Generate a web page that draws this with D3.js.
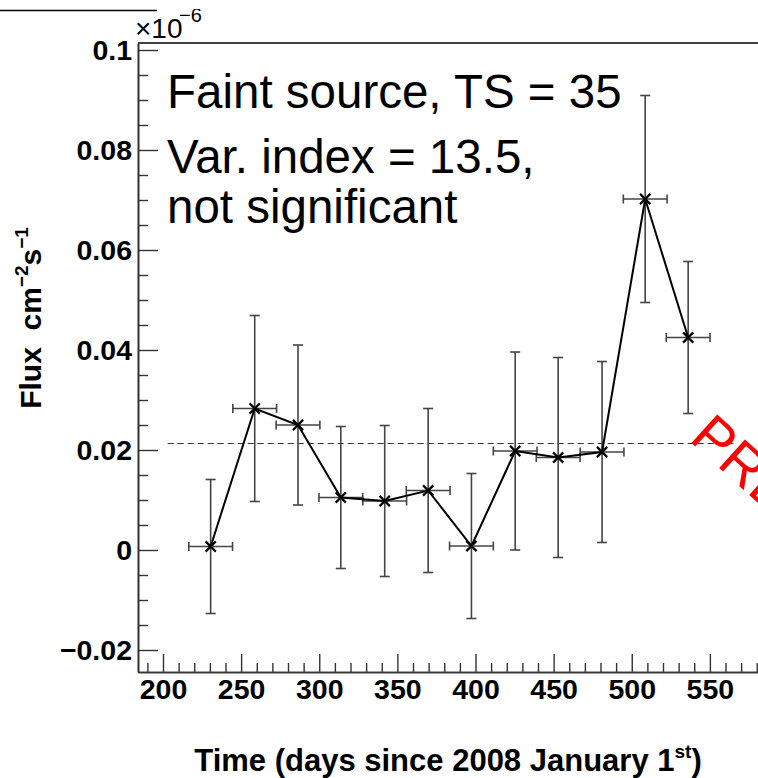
<!DOCTYPE html>
<html>
<head>
<meta charset="utf-8">
<script src="https://cdn.jsdelivr.net/npm/d3@7"></script>
<style>
  body { margin: 0; background: #fff; }
  svg { display: block; font-family: "Liberation Sans", Arial, Helvetica, sans-serif; }
</style>
</head>
<body>
<div id="lc"></div>
<script>
// light curve bins (days since 2008 Jan 1), flux in units of 1e-6 ph cm^-2 s^-1
var times    = [230.5, 258.7, 286.4, 313.8, 341.9, 369.7, 397.4, 425.4, 452.9, 481.0, 508.6, 536.1];
var halfBin  = [14, 14, 14, 14, 14, 14, 14, 14, 14, 14, 14, 14];
var flux     = [0.0007, 0.0283, 0.0250, 0.0105, 0.0098, 0.0119, 0.0008, 0.0198, 0.0185, 0.0196, 0.0702, 0.0425];
var fluxErr  = [0.0134, 0.0186, 0.0160, 0.0142, 0.0151, 0.0164, 0.0145, 0.0198, 0.0200, 0.0181, 0.0207, 0.0152];

// average flux line
var meanFlux = 0.0213;
var meanSpan = [203, 565];

// axis ticks
var xMajor = [200, 250, 300, 350, 400, 450, 500, 550];
var xMinor = d3.range(190, 590, 10).filter(d => d % 50 !== 0);
var yMajor = [-0.02, 0, 0.02, 0.04, 0.06, 0.08, 0.1];
var yMinor = [-0.015, -0.01, -0.005, 0.005, 0.01, 0.015, 0.025, 0.03, 0.035, 0.045, 0.05, 0.055, 0.065, 0.07, 0.075, 0.085, 0.09, 0.095];

var labels = ["Faint source, TS = 35", "Var. index = 13.5,", "not significant"];

var W = 758, H = 778;
var frame = {left: 138, top: 43, bottom: 672, right: 763};

var svg = d3.select("#lc").append("svg")
    .attr("width", W)
    .attr("height", H);

svg.append("rect").attr("width", W).attr("height", H).attr("fill", "#fff");

var x = d3.scaleLinear().domain([184, 584]).range([frame.left, frame.right]);
var y = d3.scaleLinear().domain([-0.0244, 0.1014]).range([frame.bottom, frame.top]);

// leftover frame line of the pad above
svg.append("line")
    .attr("x1", 0).attr("x2", 157).attr("y1", 10.5).attr("y2", 10.5)
    .attr("stroke", "#000").attr("stroke-width", 1.5);

// frame top
svg.append("line")
    .attr("x1", frame.left).attr("x2", W).attr("y1", frame.top).attr("y2", frame.top)
    .attr("stroke", "#000").attr("stroke-width", 1.5);

// x axis: minor then major
var gx = svg.append("g").attr("transform", "translate(0," + frame.bottom + ")");
gx.append("g")
    .call(d3.axisBottom(x).tickValues(xMinor).tickSize(-9).tickSizeOuter(0).tickFormat(""));
gx.append("g")
    .call(d3.axisBottom(x).tickValues(xMajor).tickSize(-18).tickSizeOuter(0).tickPadding(7))
    .selectAll("text")
      .style("font-size", "28.5px")
      .style("font-weight", "bold")
      .attr("fill", "#000");

// y axis
var gy = svg.append("g").attr("transform", "translate(" + frame.left + ",0)");
gy.append("g")
    .call(d3.axisLeft(y).tickValues(yMinor).tickSize(-10).tickSizeOuter(0).tickFormat(""));
gy.append("g")
    .call(d3.axisLeft(y).tickValues(yMajor).tickSize(-20).tickSizeOuter(0).tickPadding(6).tickFormat(d3.format("~g")))
    .selectAll("text")
      .style("font-size", "28.5px")
      .style("font-weight", "bold")
      .attr("fill", "#000");

svg.selectAll(".domain").attr("stroke", "#333").attr("stroke-width", 1.6);
svg.selectAll(".tick line").attr("stroke", "#333").attr("stroke-width", 1.4);

// exponent label
svg.append("text")
    .attr("x", 135).attr("y", 38)
    .attr("font-size", 28)
    .text("\u00d710");
svg.append("defs").append("clipPath").attr("id", "expclip")
  .append("rect").attr("x", 0).attr("y", 9).attr("width", 300).attr("height", 40);
svg.append("text")
    .attr("x", 179).attr("y", 22)
    .attr("clip-path", "url(#expclip)")
    .attr("font-size", 20)
    .text("\u22126");

// axis titles
var xt = svg.append("text")
    .attr("x", 448).attr("y", 771)
    .attr("text-anchor", "middle")
    .style("font-size", "31px")
    .style("font-weight", "bold");
xt.append("tspan").text("Time (days since 2008 January 1");
xt.append("tspan").attr("dy", -13).style("font-size", "19px").text("st");
xt.append("tspan").attr("dy", 13).text(")");

var yt = svg.append("text")
    .attr("transform", "translate(41,318) rotate(-90)")
    .attr("text-anchor", "middle")
    .style("font-size", "30px")
    .style("font-weight", "bold")
    .attr("xml:space", "preserve");
yt.append("tspan").text("Flux  cm");
yt.append("tspan").attr("dy", -13).style("font-size", "19px").text("\u22122");
yt.append("tspan").attr("dy", 13).text("s");
yt.append("tspan").attr("dy", -13).style("font-size", "19px").text("\u22121");

// mean flux
svg.append("line")
    .attr("x1", x(meanSpan[0])).attr("x2", x(meanSpan[1]))
    .attr("y1", y(meanFlux)).attr("y2", y(meanFlux))
    .attr("stroke", "#333").attr("stroke-width", 1.2)
    .attr("stroke-dasharray", "6,4");

var pts = times.map((t, i) => ({t: t, hw: halfBin[i], f: flux[i], e: fluxErr[i]}));

// error bars
var eb = svg.append("g").attr("stroke", "#444").attr("stroke-width", 1.6).attr("fill", "none");
eb.selectAll(".ev").data(pts).enter().append("line")
    .attr("x1", d => x(d.t)).attr("x2", d => x(d.t))
    .attr("y1", d => y(d.f - d.e)).attr("y2", d => y(d.f + d.e));
eb.selectAll(".eh").data(pts).enter().append("line")
    .attr("x1", d => x(d.t - d.hw)).attr("x2", d => x(d.t + d.hw))
    .attr("y1", d => y(d.f)).attr("y2", d => y(d.f));
[-1, 1].forEach(function(s) {
  eb.selectAll(null).data(pts).enter().append("line")
      .attr("x1", d => x(d.t) - 5).attr("x2", d => x(d.t) + 5)
      .attr("y1", d => y(d.f + s * d.e)).attr("y2", d => y(d.f + s * d.e));
  eb.selectAll(null).data(pts).enter().append("line")
      .attr("x1", d => x(d.t + s * d.hw)).attr("x2", d => x(d.t + s * d.hw))
      .attr("y1", d => y(d.f) - 4.5).attr("y2", d => y(d.f) + 4.5);
});

// connecting line
svg.append("path")
    .datum(pts)
    .attr("fill", "none")
    .attr("stroke", "#000")
    .attr("stroke-width", 2)
    .attr("d", d3.line().x(d => x(d.t)).y(d => y(d.f)));

// x markers
svg.selectAll(".mk").data(pts).enter().append("path")
    .attr("transform", d => "translate(" + x(d.t) + "," + y(d.f) + ")")
    .attr("d", d3.symbol().type(d3.symbolTimes).size(70))
    .attr("stroke", "#000").attr("stroke-width", 2.2).attr("fill", "none");

// annotation
var baselines = [108, 173, 223];
svg.selectAll(".lab").data(labels).enter().append("text")
    .attr("x", 167)
    .attr("y", (d, i) => baselines[i])
    .style("font-size", "47.5px")
    .text(d => d);

// watermark (runs off the right edge, as in the original)
svg.append("text")
    .attr("transform", "translate(688,440) rotate(42)")
    .style("font-size", "56px")
    .attr("fill", "#ff0000")
    .text("PRELIMINARY");
</script>
</body>
</html>
